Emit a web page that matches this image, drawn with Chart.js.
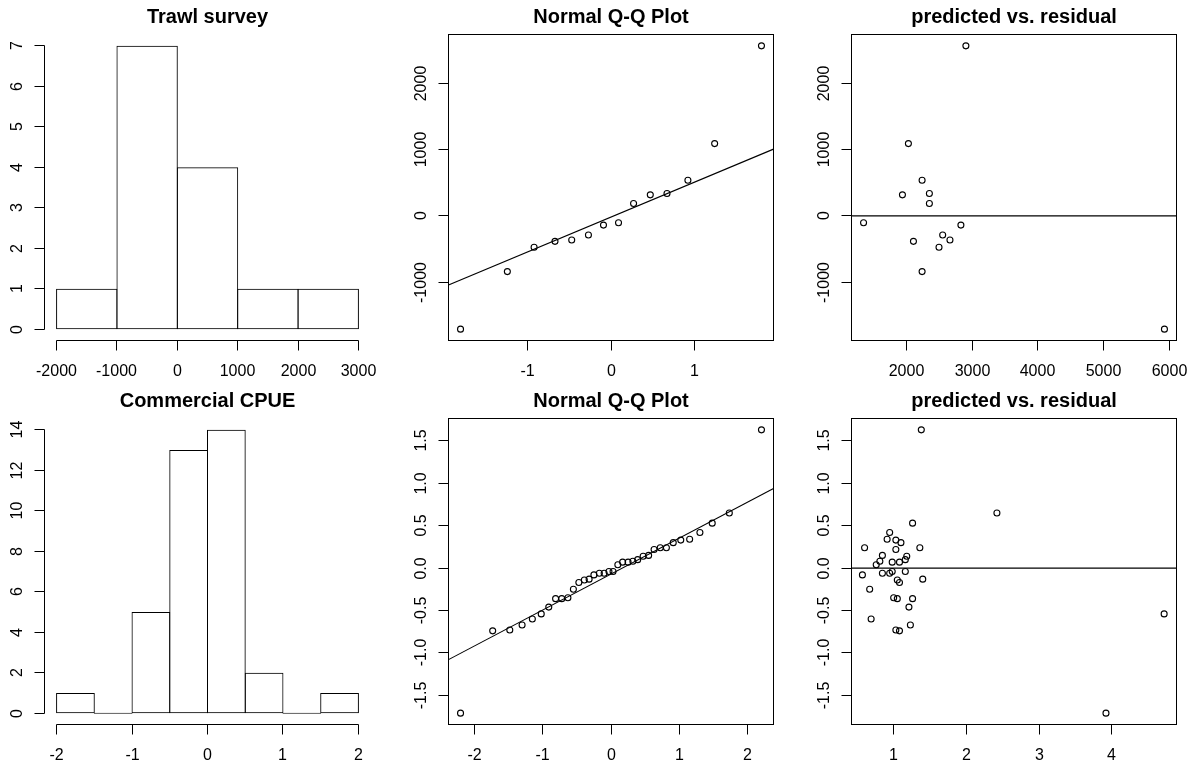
<!DOCTYPE html>
<html>
<head>
<meta charset="utf-8">
<script src="https://cdn.jsdelivr.net/npm/chart.js@4"></script>
<style>
  html, body { margin: 0; padding: 0; background: #fff; overflow: hidden; }
  #wrap { position: relative; width: 1193px; height: 769px; background: #fff; }
  canvas { position: absolute; }
</style>
</head>
<body>
<div id="wrap">
  <canvas id="trawlHist"  width="396" height="384" style="left:0px;top:0px"></canvas>
  <canvas id="trawlQq"    width="396" height="384" style="left:404px;top:0px"></canvas>
  <canvas id="trawlResid" width="386" height="384" style="left:807px;top:0px"></canvas>
  <canvas id="cpueHist"   width="396" height="384" style="left:0px;top:384px"></canvas>
  <canvas id="cpueQq"     width="396" height="384" style="left:404px;top:384px"></canvas>
  <canvas id="cpueResid"  width="386" height="384" style="left:807px;top:384px"></canvas>
</div>
<script>
// ---- Trawl survey ----
const trawlBreaks = [-2000, -1000, 0, 1000, 2000, 3000];
const trawlCounts = [1, 7, 4, 1, 1];

const trawlQqTheo  = [-1.80, -1.24, -0.92, -0.67, -0.47, -0.27, -0.09, 0.09, 0.27, 0.47, 0.67, 0.92, 1.24, 1.80];
const trawlQqResid = [-1707, -839, -473, -383, -364, -288, -138, -103, 188, 318, 338, 538, 1090, 2564];
const trawlQqLineX = [-1.944, 1.944];
const trawlQqLineY = [-1041, 1007];

const trawlPredicted = [2901, 2024, 2233, 1933, 2344, 2344, 1340, 2825, 2547, 2658, 2101, 2491, 2233, 5930];
const trawlResidual  = [2564, 1090, 538, 318, 338, 188, -103, -138, -288, -364, -383, -473, -839, -1707];

// ---- Commercial CPUE ----
const cpueBreaks = [-2, -1.5, -1, -0.5, 0, 0.5, 1, 1.5, 2];
const cpueCounts = [1, 0, 5, 13, 14, 2, 0, 1];

const cpueQqTheo = [-2.20, -1.73, -1.48, -1.30, -1.15, -1.02, -0.91, -0.81, -0.72, -0.63, -0.55, -0.47,
                    -0.39, -0.32, -0.25, -0.17, -0.10, -0.03, 0.03, 0.10, 0.17, 0.25, 0.32, 0.39,
                    0.47, 0.55, 0.63, 0.72, 0.81, 0.91, 1.02, 1.15, 1.30, 1.48, 1.73, 2.20];
const cpueQqResid = [-1.71, -0.74, -0.73, -0.67, -0.60, -0.54, -0.46, -0.36, -0.36, -0.35, -0.25, -0.17,
                     -0.14, -0.13, -0.08, -0.06, -0.06, -0.04, -0.04, 0.04, 0.07, 0.07, 0.08, 0.10,
                     0.14, 0.15, 0.22, 0.24, 0.24, 0.30, 0.33, 0.34, 0.42, 0.53, 0.65, 1.63];
const cpueQqLineX = [-2.376, 2.376];
const cpueQqLineY = [-1.079, 0.939];

const cpuePredicted = [1.38, 2.42, 4.72, 3.92, 1.26, 0.945, 0.91, 1.03, 1.10, 0.60, 1.03, 1.36,
                       0.845, 1.18, 0.81, 0.98, 1.08, 1.16, 0.76, 0.57, 0.845, 0.945, 0.98, 1.16,
                       0.67, 1.05, 1.08, 1.40, 1.00, 1.05, 1.26, 1.21, 0.69, 1.23, 1.03, 1.08];
const cpueResidual  = [1.63, 0.65, -0.54, -1.71, 0.53, 0.42, 0.34, 0.33, 0.30, 0.24, 0.22, 0.24,
                       0.15, 0.14, 0.08, 0.07, 0.07, 0.10, 0.04, -0.08, -0.06, -0.06, -0.04, -0.04,
                       -0.25, -0.14, -0.17, -0.13, -0.35, -0.36, -0.36, -0.46, -0.60, -0.67, -0.73, -0.74];

// ---- tick labels ----
const trawlHistXTicks = [-2000, -1000, 0, 1000, 2000, 3000];
const trawlHistYTicks = [0, 1, 2, 3, 4, 5, 6, 7];
const trawlQqXTicks   = [-1, 0, 1];
const trawlResidTicks = [-1000, 0, 1000, 2000];
const trawlPredTicks  = [2000, 3000, 4000, 5000, 6000];
const cpueHistXTicks  = [-2, -1, 0, 1, 2];
const cpueHistYTicks  = [0, 2, 4, 6, 8, 10, 12, 14];
const cpueQqXTicks    = [-2, -1, 0, 1, 2];
const cpueResidTicks  = [-1.5, -1, -0.5, 0, 0.5, 1, 1.5];
const cpuePredTicks   = [1, 2, 3, 4];

const FONT = '"Liberation Sans", Arial, Helvetica, sans-serif';

// axis spec per canvas, read by the R-style axis plugin
const axisSpec = {};

const rAxes = {
    id: 'rAxes',
    afterDraw(chart) {
        const spec = axisSpec[chart.canvas.id];
        if (!spec) return;
        const { ctx, chartArea: a, scales } = chart;
        const crisp = v => Math.round(v - 0.5) + 0.5;
        const fmt = (v, d) => v.toFixed(d);

        ctx.save();
        ctx.strokeStyle = '#000';
        ctx.fillStyle = '#000';
        ctx.lineWidth = 1;

        if (spec.box) {
            ctx.strokeRect(a.left, a.top, a.right - a.left, a.bottom - a.top);
        }

        ctx.font = '16px ' + FONT;
        ctx.textAlign = 'center';
        ctx.textBaseline = 'middle';

        // x axis
        const xs = spec.xTicks.map(v => crisp(scales.x.getPixelForValue(v)));
        ctx.beginPath();
        ctx.moveTo(xs[0], a.bottom);
        ctx.lineTo(xs[xs.length - 1], a.bottom);
        xs.forEach(px => {
            ctx.moveTo(px, a.bottom);
            ctx.lineTo(px, a.bottom + 10);
        });
        ctx.stroke();
        xs.forEach((px, i) => ctx.fillText(fmt(spec.xTicks[i], spec.xDigits), px, a.bottom + 31));

        // y axis, labels turned like R's las = 0
        const ys = spec.yTicks.map(v => crisp(scales.y.getPixelForValue(v)));
        ctx.beginPath();
        ctx.moveTo(a.left, ys[0]);
        ctx.lineTo(a.left, ys[ys.length - 1]);
        ys.forEach(py => {
            ctx.moveTo(a.left, py);
            ctx.lineTo(a.left - 10, py);
        });
        ctx.stroke();
        ys.forEach((py, i) => {
            ctx.save();
            ctx.translate(a.left - 27, py);
            ctx.rotate(-Math.PI / 2);
            ctx.fillText(fmt(spec.yTicks[i], spec.yDigits), 0, 0);
            ctx.restore();
        });

        ctx.restore();
    }
};
Chart.register(rAxes);

function scaleOpts(min, max, ticks) {
    return {
        type: 'linear',
        display: false,
        offset: false,
        min: min,
        max: max,
        afterBuildTicks: s => { s.ticks = ticks.map(v => ({ value: v })); }
    };
}

function baseOptions(title, pad, xScale, yScale) {
    return {
        responsive: false,
        animation: false,
        events: [],
        devicePixelRatio: 1,
        layout: { padding: pad },
        plugins: {
            legend: { display: false },
            tooltip: { enabled: false },
            title: {
                display: true,
                text: title,
                color: '#000',
                font: { family: FONT, size: 20, weight: 'bold', lineHeight: 1.2 },
                padding: { top: 5, bottom: 5.5 }
            }
        },
        scales: { x: xScale, y: yScale }
    };
}

function histChart(id, title, pad, breaks, counts, xRange, yRange, xTicks, yTicks, barPct, xDigits) {
    const bars = counts.map((c, i) => ({ x: (breaks[i] + breaks[i + 1]) / 2, y: c }));
    axisSpec[id] = { box: false, xTicks, yTicks, xDigits, yDigits: 0 };
    new Chart(document.getElementById(id), {
        type: 'bar',
        data: {
            datasets: [{
                data: bars,
                backgroundColor: 'rgba(0,0,0,0)',
                borderColor: '#000',
                borderWidth: 1,
                borderSkipped: false,
                minBarLength: 1,
                categoryPercentage: 1,
                barPercentage: barPct
            }]
        },
        options: baseOptions(title, pad,
            scaleOpts(xRange[0], xRange[1], xTicks),
            scaleOpts(yRange[0], yRange[1], yTicks))
    });
}

function scatterChart(id, title, pad, xs, ys, lineX, lineY, xRange, yRange, xTicks, yTicks, xDigits, yDigits) {
    axisSpec[id] = { box: true, xTicks, yTicks, xDigits, yDigits };
    new Chart(document.getElementById(id), {
        type: 'scatter',
        data: {
            datasets: [
                {
                    data: xs.map((x, i) => ({ x: x, y: ys[i] })),
                    pointStyle: 'circle',
                    pointRadius: 3,
                    pointBorderWidth: 1.1,
                    pointBorderColor: '#000',
                    pointBackgroundColor: 'rgba(0,0,0,0)'
                },
                {
                    data: lineX.map((x, i) => ({ x: x, y: lineY[i] })),
                    showLine: true,
                    borderColor: '#000',
                    borderWidth: 1.1,
                    pointRadius: 0
                }
            ]
        },
        options: baseOptions(title, pad,
            scaleOpts(xRange[0], xRange[1], xTicks),
            scaleOpts(yRange[0], yRange[1], yTicks))
    });
}

const padLeft  = { left: 44.5, right: 25.5, top: 0, bottom: 43.5 };
const padMid   = { left: 44.5, right: 26.5, top: 0, bottom: 43.5 };
const padRight = { left: 44.5, right: 16.5, top: 0, bottom: 43.5 };

histChart('trawlHist', 'Trawl survey', padLeft, trawlBreaks, trawlCounts,
    [-2200, 3200], [-0.28, 7.28], trawlHistXTicks, trawlHistYTicks, 1.0166, 0);

scatterChart('trawlQq', 'Normal Q-Q Plot', padMid, trawlQqTheo, trawlQqResid, trawlQqLineX, trawlQqLineY,
    [-1.944, 1.944], [-1878, 2735], trawlQqXTicks, trawlResidTicks, 0, 0);

scatterChart('trawlResid', 'predicted vs. residual', padRight, trawlPredicted, trawlResidual,
    [1156, 6114], [0, 0],
    [1156, 6114], [-1878, 2735], trawlPredTicks, trawlResidTicks, 0, 0);

histChart('cpueHist', 'Commercial CPUE', padLeft, cpueBreaks, cpueCounts,
    [-2.16, 2.16], [-0.56, 14.56], cpueHistXTicks, cpueHistYTicks, 1.0265, 0);

scatterChart('cpueQq', 'Normal Q-Q Plot', padMid, cpueQqTheo, cpueQqResid, cpueQqLineX, cpueQqLineY,
    [-2.376, 2.376], [-1.844, 1.764], cpueQqXTicks, cpueResidTicks, 0, 1);

scatterChart('cpueResid', 'predicted vs. residual', padRight, cpuePredicted, cpueResidual,
    [0.42, 4.89], [0, 0],
    [0.42, 4.89], [-1.844, 1.764], cpuePredTicks, cpueResidTicks, 0, 1);
</script>
</body>
</html>
